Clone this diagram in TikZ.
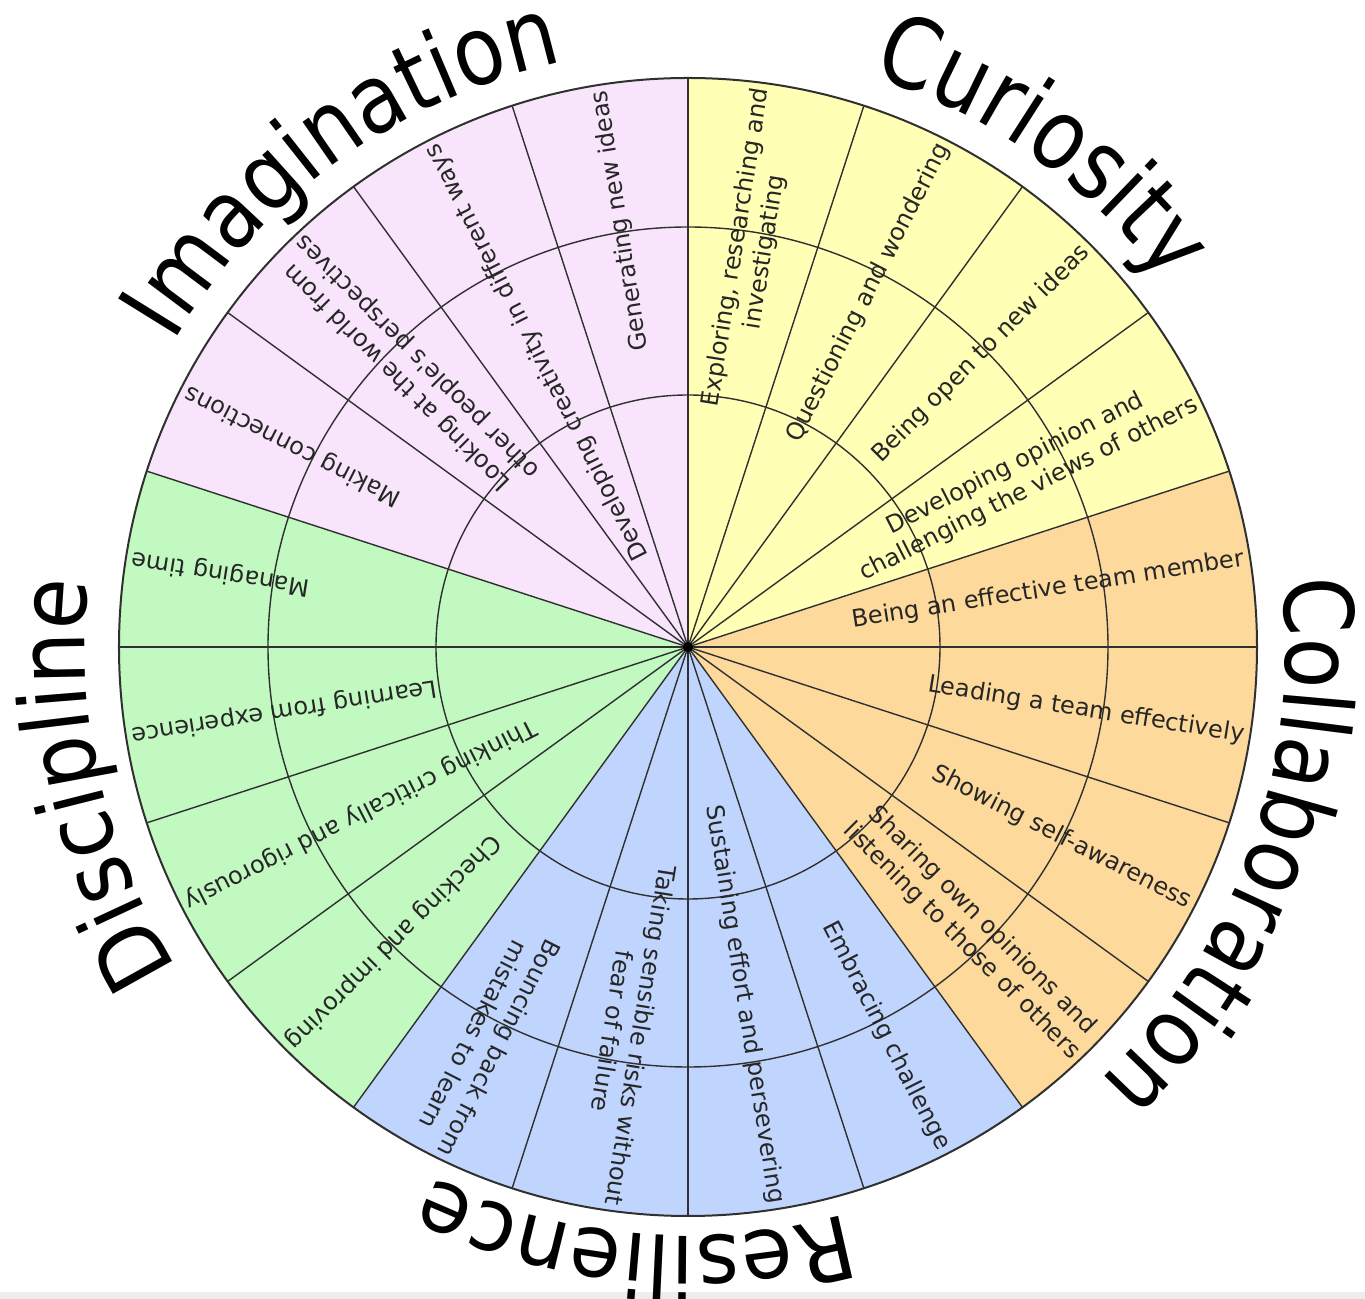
\documentclass[tikz,border=0pt]{standalone}
\usepackage{fontspec}
\setmainfont{DejaVu Sans}
\newfontfamily\labfam{DejaVu Sans}
\definecolor{curcol}{HTML}{FFFFB5}
\definecolor{colcol}{HTML}{FDDA9C}
\definecolor{rescol}{HTML}{C0D5FE}
\definecolor{discol}{HTML}{C1F9C1}
\definecolor{imacol}{HTML}{F8E5FB}
\definecolor{linecol}{HTML}{303030}
\definecolor{labcol}{HTML}{262626}
\definecolor{stripcol}{HTML}{EDEDED}
\newcommand\labfont{\labfam\fontsize{12}{14.5}\selectfont}
\newcommand\titfont{\labfam\fontsize{41.5}{41.5}\selectfont}
\tikzset{
  wheelline/.style={draw=linecol, line width=0.7pt},
  lab/.style={font=\labfont, text=labcol, align=center, anchor=east, inner sep=0pt, outer sep=0pt},
  titlech/.style={font=\titfont, text=black, anchor=base, inner sep=0pt, outer sep=0pt},
}
% #1 baseline radius, #2 centre angle, #3 em (px), #4 yscale, #5 letter/width list, #6 name prefix
\newcommand\arcword[6]{%
  \gdef\arcsum{0}%
  \foreach \tch/\tcw in {#5}{\pgfmathsetmacro\arctmp{\arcsum+\tcw}\xdef\arcsum{\arctmp}}%
  \pgfmathsetmacro\arctmp{#2+\arcsum/1000*#3/#1*90/pi}%
  \xdef\arccur{\arctmp}%
  \foreach \tch/\tcw [count=\k] in {#5}{%
    \pgfmathsetmacro\arcd{\tcw/1000*#3/#1*180/pi}%
    \pgfmathsetmacro\arcm{\arccur-\arcd/2}%
    \node[titlech, rotate=\arcm-90, yscale=#4] (#6\k) at (\arcm:#1) {\tch};
    \pgfmathsetmacro\arctmp{\arccur-\arcd}\xdef\arccur{\arctmp}%
  }%
}
\begin{document}
\begin{tikzpicture}[x=0.5pt,y=0.5pt]
\useasboundingbox (-688,-652) rectangle (677,647);
\fill[white] (-688,-652) rectangle (677,647);
\fill[stripcol] (-688,-652) rectangle (677,-645);
\coordinate (O) at (0,0);
% sectors
\fill[curcol] (O) -- (90:569) arc[start angle=90, end angle=18, radius=569] -- cycle;
\fill[colcol] (O) -- (18:569) arc[start angle=18, end angle=-54, radius=569] -- cycle;
\fill[rescol] (O) -- (-54:569) arc[start angle=-54, end angle=-126, radius=569] -- cycle;
\fill[discol] (O) -- (234:569) arc[start angle=234, end angle=162, radius=569] -- cycle;
\fill[imacol] (O) -- (162:569) arc[start angle=162, end angle=90, radius=569] -- cycle;
% grid
\foreach \a in {0,18,...,342} \draw[wheelline] (O) -- (\a:569);
\draw[wheelline] (O) circle[radius=252];
\draw[wheelline] (O) circle[radius=420];
\draw[wheelline, line width=1pt] (O) circle[radius=569];
\fill[black] (O) circle[radius=5];
% Curiosity
\node[lab, rotate=81] (cu1) at (81:563) {Exploring, researching and\\investigating};
\node[lab, rotate=63] (cu2) at (63:563) {Questioning and wondering};
\node[lab, rotate=45] (cu3) at (45:563) {Being open to new ideas};
\node[lab, rotate=27] (cu4) at (27:563) {Developing opinion and\\challenging the views of others};
% Collaboration
\node[lab, rotate=9] (co1) at (9:563) {Being an effective team member};
\node[lab, rotate=-9] (co2) at (-9:563) {Leading a team effectively};
\node[lab, rotate=-27] (co3) at (-27:563) {Showing self-awareness};
\node[lab, rotate=-45] (co4) at (-45:563) {Sharing own opinions and\\listening to those of others};
% Resilience
\node[lab, rotate=-63] (re1) at (-63:563) {Embracing challenge};
\node[lab, rotate=-81] (re2) at (-81:563) {Sustaining effort and persevering};
\node[lab, rotate=-99] (re3) at (-99:563) {Taking sensible risks without\\fear of failure};
\node[lab, rotate=-117] (re4) at (-117:563) {Bouncing back from\\mistakes to learn};
% Discipline
\node[lab, rotate=225] (di1) at (225:563) {Checking and improving};
\node[lab, rotate=207] (di2) at (207:563) {Thinking critically and rigorously};
\node[lab, rotate=189] (di3) at (189:563) {Learning from experience};
\node[lab, rotate=171] (di4) at (171:563) {Managing time};
% Imagination
\node[lab, rotate=153] (im1) at (153:563) {Making connections};
\node[lab, rotate=135] (im2) at (135:563) {Looking at the world from\\other people's perspectives};
\node[lab, rotate=117] (im3) at (117:563) {Developing creativity in different ways};
\node[lab, rotate=99] (im4) at (99:563) {Generating new ideas};
% titles
\arcword{598}{125.7}{83}{1.15}{I/295,m/974,a/613,g/635,i/278,n/634,a/613,t/392,i/278,o/612,n/634}{tima}
\arcword{600}{54.7}{83}{1.18}{C/698,u/634,r/411,i/278,o/612,s/521,i/278,t/392,y/592}{tcur}
\arcword{598}{-20}{83}{1.15}{C/698,o/612,l/278,l/278,a/613,b/635,o/612,r/411,a/613,t/392,i/278,o/612,n/634}{tcol}
\arcword{589}{-95.1}{84}{1.05}{R/695,e/615,s/521,i/278,l/278,i/278,e/615,n/634,c/550,e/615}{tres}
\arcword{603}{192.9}{84}{1.12}{D/770,i/278,s/521,c/550,i/278,p/635,l/278,i/278,n/634,e/615}{tdis}
\end{tikzpicture}
\end{document}
